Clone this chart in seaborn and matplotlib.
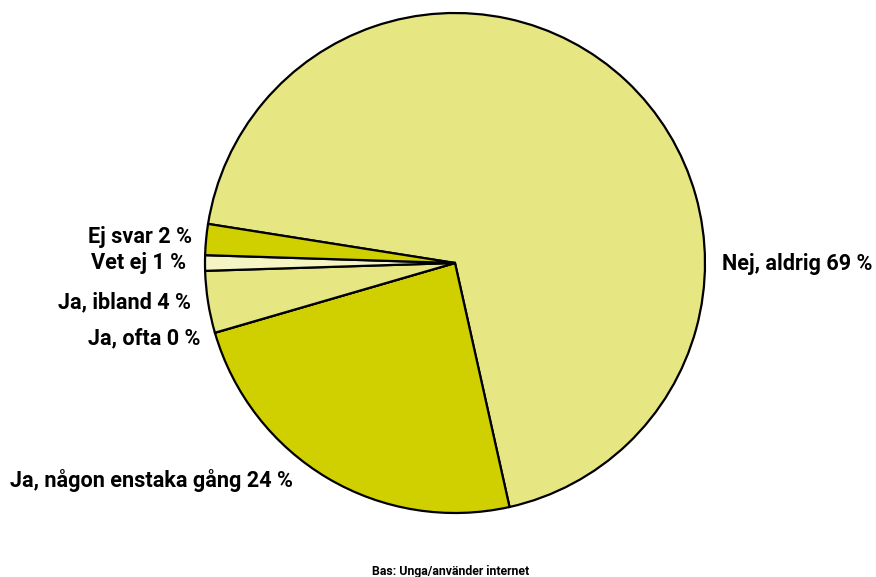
import matplotlib
matplotlib.use("Agg")
import matplotlib.pyplot as plt
import seaborn as sns

categories = ["Nej, aldrig", "Ja, någon enstaka gång", "Ja, ofta", "Ja, ibland", "Vet ej", "Ej svar"]
values = [69, 24, 0, 4, 1, 2]
colors = ["#E6E683", "#D0CF00", "#D0CF00", "#E6E683", "#F4F4C4", "#D0CF00"]
footnote = "Bas: Unga/använder internet"

sns.set_theme(style="white")
plt.rcParams['font.family'] = ['Roboto', 'DejaVu Sans']

fig = plt.figure(figsize=(8.76, 5.77), dpi=100)
ax = fig.add_axes([0, 0, 1, 1])

ax.pie(values, colors=colors, startangle=171, counterclock=False,
       center=(455, 314), radius=250, frame=True,
       wedgeprops=dict(edgecolor="black", linewidth=1.6))
ax.set_xlim(0, 876)
ax.set_ylim(0, 577)
ax.set_aspect('equal')
ax.axis('off')

fs = 15.6
def lab(x, y, i, ha):
    ax.text(x, 577 - y, f"{categories[i]} {values[i]} %", ha=ha, va='center',
            fontsize=fs, fontweight='bold', color='black')

lab(722, 264, 0, 'left')
lab(293, 481, 1, 'right')
lab(200, 338, 2, 'right')
lab(191, 302, 3, 'right')
lab(186, 263, 4, 'right')
lab(192, 237, 5, 'right')

ax.text(451, 577 - 571, footnote, ha='center', va='center', fontsize=8.8,
        fontweight='bold', color='black')

fig.savefig("out.png", dpi=100, facecolor='white')
